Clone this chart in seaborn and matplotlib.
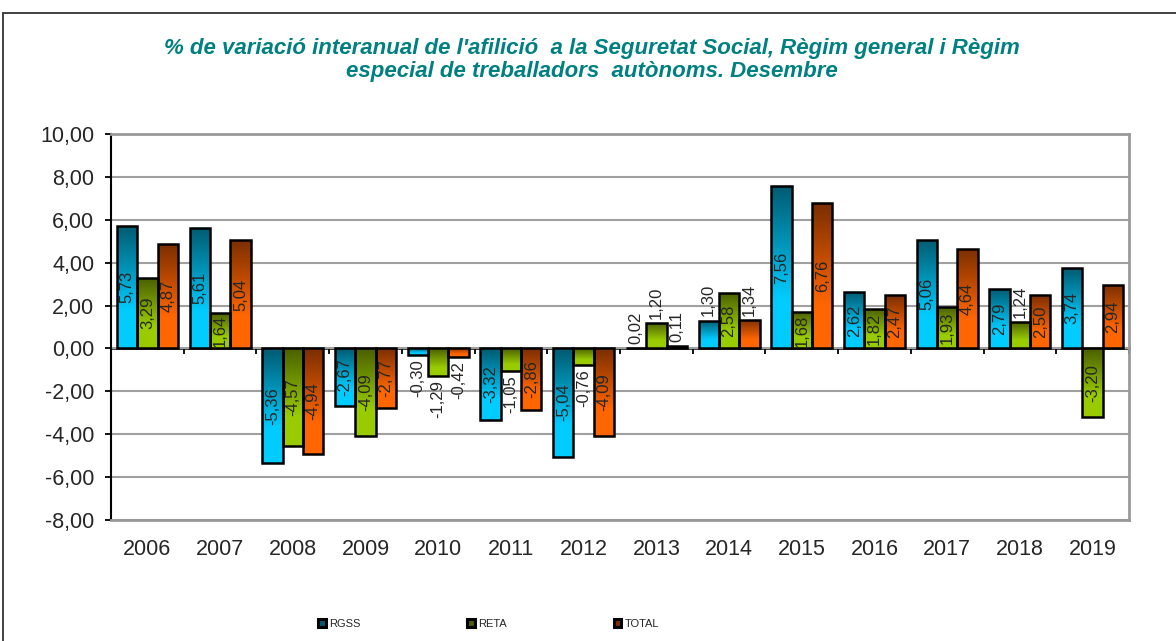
import numpy as np
import pandas as pd
import matplotlib
matplotlib.use("Agg")
import matplotlib.pyplot as plt
import seaborn as sns
from matplotlib.colors import LinearSegmentedColormap
from matplotlib.patches import Patch, Rectangle
from matplotlib.ticker import FuncFormatter

# data
years = ["2006", "2007", "2008", "2009", "2010", "2011", "2012",
         "2013", "2014", "2015", "2016", "2017", "2018", "2019"]
rgss = [5.73, 5.61, -5.36, -2.67, -0.30, -3.32, -5.04, 0.02, 1.30, 7.56, 2.62, 5.06, 2.79, 3.74]
reta = [3.29, 1.64, -4.57, -4.09, -1.29, -1.05, -0.76, 1.20, 2.58, 1.68, 1.82, 1.93, 1.24, -3.20]
total = [4.87, 5.04, -4.94, -2.77, -0.42, -2.86, -4.09, 0.11, 1.34, 6.76, 2.47, 4.64, 2.50, 2.94]
series = ["RGSS", "RETA", "TOTAL"]

title = ("% de variació interanual de l'afilició  a la Seguretat Social, Règim general i Règim\n"
         "especial de treballadors  autònoms. Desembre")

# light (bottom) / dark (top) colour of each gradient
light = {"RGSS": "#00ccff", "RETA": "#99cc00", "TOTAL": "#ff6600"}
dark = {"RGSS": "#005a70", "RETA": "#4a5e00", "TOTAL": "#7a2e00"}

df = pd.DataFrame({
    "year": years * 3,
    "value": rgss + reta + total,
    "serie": [s for s in series for _ in years],
})

sns.set_style("white")
plt.rcParams["font.family"] = ["Liberation Sans", "DejaVu Sans"]

fig = plt.figure(figsize=(11.76, 6.41), dpi=100)
ax = fig.add_axes([111 / 1176, 1 - 520 / 641, (1129 - 111) / 1176, (520 - 134) / 641])

sns.barplot(data=df, x="year", y="value", hue="serie", palette=light,
            width=0.84, gap=0, errorbar=None, edgecolor="black", linewidth=1.8,
            legend=False, ax=ax, zorder=3)

# gradient fill, dark at the top of each bar
grad = np.linspace(0, 1, 256).reshape(-1, 1)
for name, cont in zip(series, ax.containers):
    cmap = LinearSegmentedColormap.from_list(name, [(0, light[name]), (0.3, light[name]), (1, dark[name])])
    for patch, v in zip(cont, df.loc[df.serie == name, "value"]):
        x0 = patch.get_x()
        x1 = x0 + patch.get_width()
        im = ax.imshow(grad, extent=[x0, x1, min(0, v), max(0, v)], origin="lower",
                       aspect="auto", cmap=cmap, zorder=2.9)
        im.set_clip_path(patch)
        patch.set_facecolor("none")
ax.set_ylim(-8, 10)
ax.set_xlim(-0.5, len(years) - 0.5)

# value labels
for name, cont in zip(series, ax.containers):
    for patch, v in zip(cont, df.loc[df.serie == name, "value"]):
        xc = patch.get_x() + patch.get_width() / 2
        txt = f"{v:.2f}".replace(".", ",")
        if abs(v) >= 1.5:
            ax.text(xc, v / 2, txt, rotation=90, ha="center", va="center", fontsize=12, zorder=5)
        else:
            ax.annotate(txt, (xc, v), xytext=(0, 3 if v >= 0 else -3), textcoords="offset points",
                        rotation=90, ha="center", va="bottom" if v >= 0 else "top",
                        fontsize=12, zorder=5)

# axes styling
ax.set_yticks(np.arange(-8, 11, 2))
ax.yaxis.set_major_formatter(FuncFormatter(lambda v, p: f"{v:.2f}".replace(".", ",")))
ax.grid(axis="y", color="#a0a0a0", linewidth=1.5, zorder=0)
ax.set_axisbelow(True)
ax.tick_params(axis="y", left=True, direction="out", length=4, width=1.3, pad=8,
               labelsize=15.5, color="black")
ax.tick_params(axis="x", length=0, pad=14, labelsize=15.5)
ax.set_xlabel("")
ax.set_ylabel("")
for s in ["top", "right", "bottom"]:
    ax.spines[s].set_color("#999999")
    ax.spines[s].set_linewidth(2)
ax.spines["left"].set_color("black")
ax.spines["left"].set_linewidth(1.5)

# zero axis with tick marks between categories
zero = ax.secondary_xaxis(8 / 18)
zero.set_xticks(np.arange(-0.5, len(years), 1))
zero.tick_params(axis="x", direction="out", length=4, width=1.3, labelbottom=False, color="black")
zero.spines["bottom"].set_color("black")
zero.spines["bottom"].set_linewidth(1.8)

fig.text(0.503, 1 - 60 / 641, title, ha="center", va="center", color="#008080",
         fontsize=16, fontweight="bold", fontstyle="italic", linespacing=1.1)

handles = [Patch(facecolor=dark[s], edgecolor="black", linewidth=2.2) for s in series]
fig.legend(handles, series, loc="center left", bbox_to_anchor=(318 / 1176, 1 - 624 / 641), ncol=3,
           frameon=False, fontsize=8, handlelength=0.7, handleheight=0.7,
           handletextpad=0.3, columnspacing=9.6, borderpad=0, borderaxespad=0)

# outer chart border
fig.patches.append(Rectangle((3 / 1176, -0.05), 1.2, 1 - 13 / 641 + 0.05, transform=fig.transFigure,
                             fill=False, edgecolor="#333333", linewidth=1.3))

fig.savefig("out.png", dpi=100)
